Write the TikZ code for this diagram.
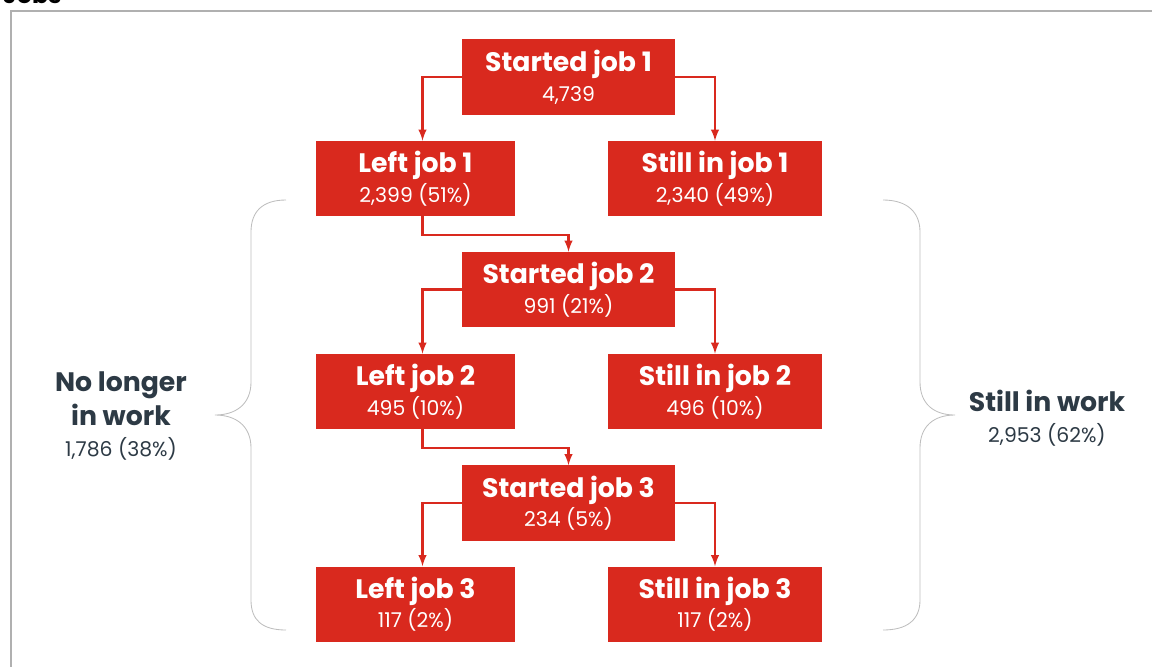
\documentclass[tikz,border=0pt]{standalone}
\usepackage{fontspec}
\setmainfont{Poppins}
\usetikzlibrary{positioning}
\definecolor{boxred}{RGB}{217,41,30}
\definecolor{slate}{RGB}{45,58,69}
\definecolor{framegray}{RGB}{176,176,176}
\definecolor{bracegray}{RGB}{190,190,190}
\newcommand{\boxtext}[2]{#1\\[-1pt]\mdseries\fontsize{14.5}{17}\selectfont #2}

\begin{document}
\begin{tikzpicture}[x=0.025cm, y=-0.025cm, >=latex,
    jobbox/.style={fill=boxred, text=white, minimum height=1.875cm, align=center, inner sep=0pt,
        font=\bfseries\fontsize{19}{22}\selectfont},
    smallbox/.style={jobbox, minimum width=4.975cm},
    widebox/.style={jobbox, minimum width=5.325cm},
    link/.style={boxred, line width=1.7pt, ->},
    brace/.style={bracegray, line width=0.6pt},
    sidelabel/.style={text=slate, align=center, font=\bfseries\fontsize{19}{24}\selectfont}]
    \useasboundingbox (0,0) rectangle (1152,666);
    \node[anchor=base west, font=\bfseries\fontsize{17}{17}\selectfont] (Title) at (-2,3) {Jobs};
    \draw[framegray, line width=1.4pt] (11,1000) -- (11,11) -- (1200,11);

    \node (StartedOne) [widebox] at (568.5,77) {\boxtext{Started job 1}{4,739}};
    \node (LeftOne) [smallbox] at (415.5,178.5) {\boxtext{Left job 1}{2,399 (51\%)}};
    \node (StillOne) [widebox] at (715,178.5) {\boxtext{Still in job 1}{2,340 (49\%)}};
    \node (StartedTwo) [widebox] at (568.5,289.5) {\boxtext{Started job 2}{991 (21\%)}};
    \node (LeftTwo) [smallbox] at (415.5,391.5) {\boxtext{Left job 2}{495 (10\%)}};
    \node (StillTwo) [widebox] at (715,391.5) {\boxtext{Still in job 2}{496 (10\%)}};
    \node (StartedThree) [widebox] at (568.5,503) {\boxtext{Started job 3}{234 (5\%)}};
    \node (LeftThree) [smallbox] at (415.5,604) {\boxtext{Left job 3}{117 (2\%)}};
    \node (StillThree) [widebox] at (715,604) {\boxtext{Still in job 3}{117 (2\%)}};

    \draw[link] (StartedOne.west) -| ([xshift=0.175cm]LeftOne.north);
    \draw[link] (StartedOne.east) -| (StillOne.north);
    \draw[link] ([xshift=0.175cm]LeftOne.south) -- ++(0,19) -| (StartedTwo.north);
    \draw[link] (StartedTwo.west) -| ([xshift=0.175cm]LeftTwo.north);
    \draw[link] (StartedTwo.east) -| (StillTwo.north);
    \draw[link] ([xshift=0.175cm]LeftTwo.south) -- ++(0,19) -| (StartedThree.north);
    \draw[link] (StartedThree.west) -| ([xshift=0.175cm]LeftThree.north);
    \draw[link] (StartedThree.east) -| (StillThree.north);

    % braces
    \draw[brace] (286,200) .. controls (262,200) and (251,212) .. (251,232) -- (251,382)
        .. controls (251,404) and (236,415) .. (215,415)
        .. controls (236,415) and (251,426) .. (251,448) -- (251,600)
        .. controls (251,620) and (262,630) .. (286,630);
    \draw[brace] (883,200) .. controls (907,200) and (920,212) .. (920,232) -- (920,382)
        .. controls (920,404) and (934,415) .. (955,415)
        .. controls (934,415) and (920,426) .. (920,448) -- (920,600)
        .. controls (920,620) and (907,630) .. (883,630);

    \node (NoLonger) [sidelabel] at (121,416)
        {No longer\\in work\\[-2pt]\mdseries\fontsize{14.5}{17}\selectfont 1,786 (38\%)};
    \node (StillWork) [sidelabel] at (1047,418)
        {Still in work\\[-2pt]\mdseries\fontsize{14.5}{17}\selectfont 2,953 (62\%)};
\end{tikzpicture}
\end{document}
